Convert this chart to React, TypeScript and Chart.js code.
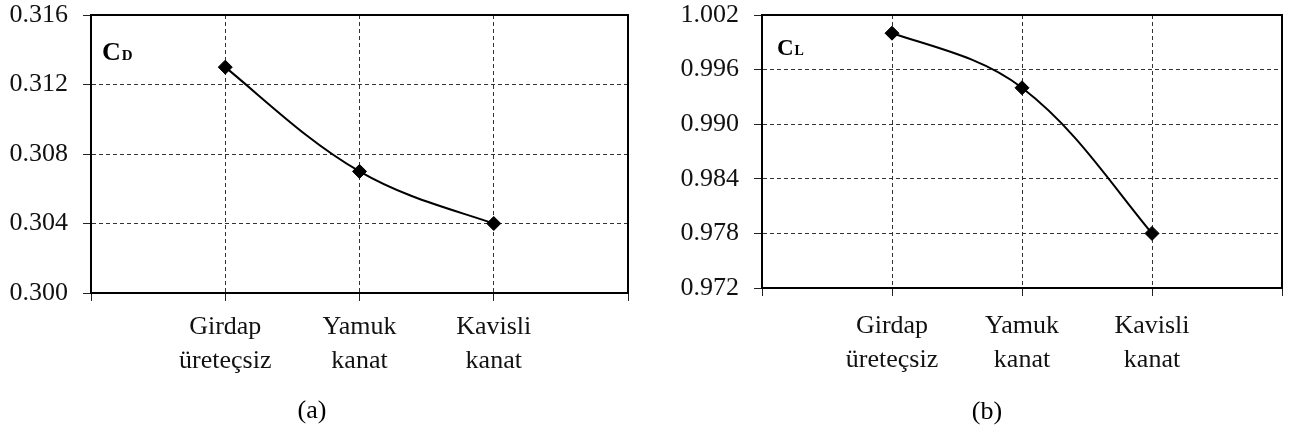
import React, { useEffect, useRef } from "react";
import { Chart, registerables } from "chart.js";

Chart.register(...registerables);

const categories: (string | string[])[] = [
  "",
  ["Girdap", "üreteçsiz"],
  ["Yamuk", "kanat"],
  ["Kavisli", "kanat"],
  "",
];
const cdValues: (number | null)[] = [null, 0.313, 0.307, 0.304, null];
const clValues: (number | null)[] = [null, 1.0, 0.994, 0.978, null];

const cdAxis = { min: 0.3, max: 0.316, step: 0.004 };
const clAxis = { min: 0.972, max: 1.002, step: 0.006 };

const SERIF = '"Liberation Serif", "Times New Roman", serif';

// Excel-like end conditions for the smoothed line: adjust the control points of
// the first and last visible points after Chart.js computed its spline.
const smoothEndsPlugin = {
  id: "smoothEnds",
  beforeDatasetDraw(chart: any, args: any) {
    const meta = args.meta;
    if (!meta || !meta.dataset) return;
    meta.dataset.updateControlPoints(chart.chartArea, meta.iScale.axis);
    const pts = (meta.data || []).filter((p: any) => !p.skip);
    if (pts.length < 3) return;
    const slopeAt = (p: any) => (p.cp2y - p.cp1y) / (p.cp2x - p.cp1x);
    {
      const p1 = pts[0];
      const p2 = pts[1];
      const dx = p2.x - p1.x;
      const chord = (p2.y - p1.y) / dx;
      const s = (5 * chord - slopeAt(p2)) / 4;
      p1.cp2x = p1.x + dx / 3;
      p1.cp2y = p1.y + (s * dx) / 3;
    }
    {
      const pn = pts[pts.length - 1];
      const pm = pts[pts.length - 2];
      const dx = pn.x - pm.x;
      const chord = (pn.y - pm.y) / dx;
      const s = (5 * chord - slopeAt(pm)) / 4;
      pn.cp1x = pn.x - dx / 3;
      pn.cp1y = pn.y - (s * dx) / 3;
    }
  },
};

const framePlugin = {
  id: "frame",
  afterDraw(chart: any, _args: any, opts: any) {
    const { ctx, chartArea: a } = chart;
    ctx.save();
    ctx.strokeStyle = "#000";
    ctx.lineWidth = 2;
    ctx.strokeRect(a.left, a.top, a.right - a.left, a.bottom - a.top);
    ctx.fillStyle = "#000";
    ctx.textBaseline = "alphabetic";
    ctx.textAlign = "left";
    ctx.font = `bold ${opts.mainSize}px ${SERIF}`;
    const x0 = a.left + opts.dx;
    const y0 = a.top + opts.dy;
    ctx.fillText(opts.main, x0, y0);
    const w = ctx.measureText(opts.main).width;
    ctx.font = `bold ${opts.subSize}px ${SERIF}`;
    ctx.fillText(opts.sub, x0 + w + 1, y0);
    ctx.font = `26px ${SERIF}`;
    ctx.textAlign = "center";
    ctx.textBaseline = "middle";
    ctx.fillText(opts.caption, opts.captionX, opts.captionY);
    ctx.restore();
  },
};

function makeConfig(
  values: (number | null)[],
  axis: { min: number; max: number; step: number },
  yWidth: number,
  xHeight: number,
  rightPad: number,
  xPad: number,
  frame: any
): any {
  return {
    type: "line",
    data: {
      labels: categories,
      datasets: [
        {
          data: values,
          borderColor: "#000",
          borderWidth: 2,
          tension: 0.36,
          pointStyle: "rectRot",
          pointRadius: 7,
          pointBackgroundColor: "#000",
          pointBorderColor: "#000",
          pointBorderWidth: 1,
          fill: false,
        },
      ],
    },
    plugins: [smoothEndsPlugin, framePlugin],
    options: {
      animation: false,
      responsive: false,
      layout: { padding: { left: 0, right: rightPad, top: 15, bottom: 0 } },
      plugins: {
        legend: { display: false },
        tooltip: { enabled: false },
        frame,
      },
      scales: {
        x: {
          offset: false,
          grid: {
            color: "#333",
            lineWidth: 1,
            tickColor: "#222",
            tickBorderDash: [],
            tickLength: 8,
            drawTicks: true,
          },
          border: { display: true, color: "#000", width: 2, dash: [4, 3] },
          ticks: {
            autoSkip: false,
            maxRotation: 0,
            minRotation: 0,
            padding: xPad,
            color: "#111",
            font: { family: SERIF, size: 26, lineHeight: 1.3 },
          },
          afterFit(scale: any) {
            scale.height = xHeight;
            scale.paddingLeft = 0;
            scale.paddingRight = 0;
          },
        },
        y: {
          min: axis.min,
          max: axis.max,
          grid: {
            color: "#333",
            lineWidth: 1,
            tickColor: "#222",
            tickBorderDash: [],
            tickLength: 8,
          },
          border: { display: true, color: "#000", width: 2, dash: [4, 3] },
          ticks: {
            stepSize: axis.step,
            padding: 15,
            color: "#111",
            font: { family: SERIF, size: 26 },
            callback: (v: any) => Number(v).toFixed(3),
          },
          afterFit(scale: any) {
            scale.width = yWidth;
            scale.paddingTop = 0;
            scale.paddingBottom = 0;
          },
        },
      },
    },
  };
}

function ChartCanvas({ config, width, height }: { config: any; width: number; height: number }) {
  const ref = useRef<HTMLCanvasElement | null>(null);
  useEffect(() => {
    if (!ref.current) return;
    const chart = new Chart(ref.current, config);
    return () => chart.destroy();
  }, [config]);
  return <canvas ref={ref} width={width} height={height} style={{ display: "block", width, height }} />;
}

const leftConfig = makeConfig(cdValues, cdAxis, 91, 139, 12, 9, {
  main: "C",
  sub: "D",
  mainSize: 26,
  subSize: 15,
  dx: 11,
  dy: 45,
  caption: "(a)",
  captionX: 312,
  captionY: 411,
});

const rightConfig = makeConfig(clValues, clAxis, 122, 144, 4, 13, {
  main: "C",
  sub: "L",
  mainSize: 23,
  subSize: 14,
  dx: 15,
  dy: 40,
  caption: "(b)",
  captionX: 347,
  captionY: 412,
});

export default function App() {
  return (
    <div
      style={{
        position: "fixed",
        left: 0,
        top: 0,
        width: 1290,
        height: 432,
        background: "#fff",
        display: "flex",
        flexDirection: "row",
      }}
    >
      <ChartCanvas config={leftConfig} width={640} height={432} />
      <ChartCanvas config={rightConfig} width={650} height={432} />
    </div>
  );
}
